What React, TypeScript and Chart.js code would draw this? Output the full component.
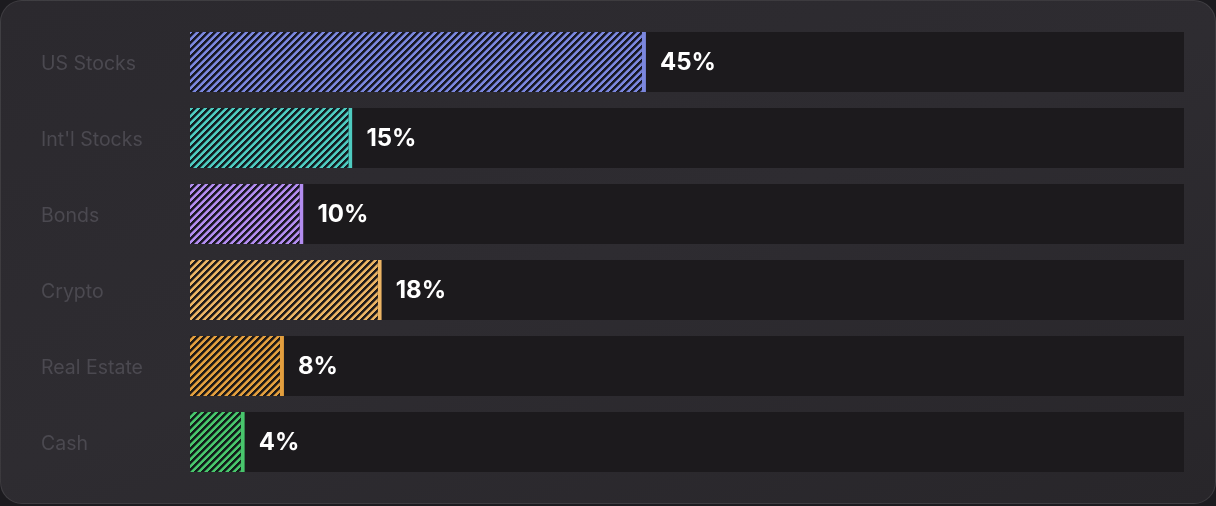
import React, { useEffect, useRef } from "react";
import { Chart, registerables } from "chart.js";

Chart.register(...registerables);

const categories = ["US Stocks", "Int'l Stocks", "Bonds", "Crypto", "Real Estate", "Cash"];
const allocation = [45, 15, 10, 18, 8, 4];
const valueLabels = ["45%", "15%", "10%", "18%", "8%", "4%"];
const barColors = ["#7b87de", "#4ecbc0", "#b38df0", "#ebb464", "#e39f3e", "#48c66c"];
const trackMax = 100;
const barBase = -1.6;

function makePattern(color: string): CanvasPattern | string {
  const size = 7;
  const c = document.createElement("canvas");
  c.width = size;
  c.height = size;
  const ctx = c.getContext("2d");
  if (!ctx) return color;
  ctx.fillStyle = color;
  ctx.fillRect(0, 0, size, size);
  for (let y = 0; y < size; y++) {
    for (let x = 0; x < size; x++) {
      const k = (x + y) % size;
      if (k < 3) {
        ctx.fillStyle = "rgba(14,14,20,0.92)";
        ctx.fillRect(x, y, 1, 1);
      } else if (k === 3) {
        ctx.fillStyle = "rgba(14,14,20,0.45)";
        ctx.fillRect(x, y, 1, 1);
      }
    }
  }
  const p = ctx.createPattern(c, "repeat");
  return p || color;
}

const valueLabelPlugin = {
  id: "valueLabels",
  afterDatasetsDraw(chart: any) {
    const meta = chart.getDatasetMeta(1);
    const ctx = chart.ctx;
    ctx.save();
    ctx.font = "700 24px Inter, 'Noto Sans', sans-serif";
    ctx.fillStyle = "#ffffff";
    ctx.textAlign = "left";
    ctx.textBaseline = "middle";
    meta.data.forEach((el: any, i: number) => {
      ctx.fillText(valueLabels[i], el.x + 14, el.y + 1);
    });
    ctx.restore();
  },
};

export default function App() {
  const ref = useRef<HTMLCanvasElement | null>(null);

  useEffect(() => {
    document.body.style.background = "#1c1b1f";
    document.body.style.margin = "0";
    if (!ref.current) return;
    const patterns = barColors.map((c) => makePattern(c));
    const chart = new Chart(ref.current, {
      type: "bar",
      data: {
        labels: categories,
        datasets: [
          {
            label: "track",
            data: categories.map(() => [barBase, trackMax]) as any,
            backgroundColor: "#1c1a1d",
            borderWidth: 0,
            grouped: false,
            order: 2,
            barPercentage: 60 / 76,
            categoryPercentage: 1,
          },
          {
            label: "allocation",
            data: allocation.map((v) => [barBase, v]) as any,
            backgroundColor: patterns as any,
            borderColor: barColors,
            borderWidth: { left: 0, top: 0, bottom: 0, right: 4 } as any,
            borderSkipped: false as any,
            grouped: false,
            order: 1,
            barPercentage: 60 / 76,
            categoryPercentage: 1,
          },
        ],
      },
      options: {
        indexAxis: "y",
        animation: false,
        responsive: false,
        devicePixelRatio: 1,
        layout: { padding: { top: 24, bottom: 24, left: 41, right: 32 } },
        plugins: {
          legend: { display: false },
          tooltip: { enabled: false },
        },
        scales: {
          x: {
            display: false,
            min: barBase,
            max: trackMax,
          },
          y: {
            grid: { display: false },
            border: { display: false },
            ticks: {
              color: "#4b4950",
              font: { family: "Inter, 'Noto Sans', sans-serif", size: 19.5 },
              crossAlign: "far",
              padding: 0,
              labelOffset: 2,
            },
            afterFit: (s: any) => {
              s.width = 149;
            },
          },
        },
      },
      plugins: [valueLabelPlugin],
    });
    return () => chart.destroy();
  }, []);

  return (
    <div
      style={{
        position: "absolute",
        left: 0,
        top: 0,
        width: 1216,
        height: 504,
        borderRadius: 22,
        boxSizing: "border-box",
        border: "1.5px solid rgba(255,255,255,0.09)",
        background: "linear-gradient(160deg, #2b292e 0%, #2e2c31 50%, #28262a 100%)",
        overflow: "hidden",
      }}
    >
      <canvas
        ref={ref}
        width={1216}
        height={504}
        style={{ position: "absolute", left: -1.5, top: -1.5, width: 1216, height: 504 }}
      />
    </div>
  );
}
